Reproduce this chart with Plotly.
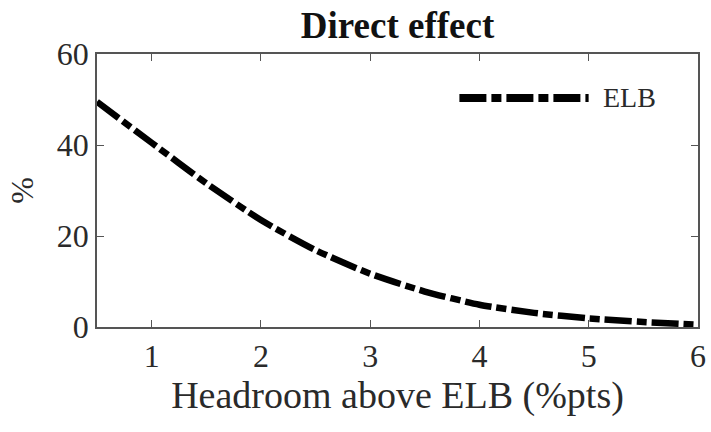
import plotly.graph_objects as go

# Headroom above the effective lower bound (percentage points)
headroom = [0.5, 1.0, 1.5, 2.0, 2.5, 3.0, 3.5, 4.0, 4.5, 5.0, 5.5, 6.0]
# Direct effect under the ELB scenario (%)
elb_effect = [49.5, 40.5, 31.6, 23.5, 16.9, 11.7, 7.8, 4.9, 3.1, 1.9, 1.1, 0.5]

x_ticks = [1, 2, 3, 4, 5, 6]
y_ticks = [0, 20, 40, 60]

SERIF = "Liberation Serif, Times New Roman, serif"
AXIS_COLOR = "#555555"
TEXT_COLOR = "#2a2a2a"
DASH = "27px,5px,10px,5px"

fig = go.Figure()
fig.add_trace(go.Scatter(
    x=headroom, y=elb_effect, mode="lines", name="ELB",
    line=dict(color="black", width=6.5, dash=DASH, shape="spline", smoothing=0.6),
    showlegend=False,
))

# Legend sample drawn as a long dash-dot segment with its label
fig.add_shape(type="line", xref="paper", yref="paper",
              x0=0.603, x1=0.818, y0=0.839, y1=0.839,
              line=dict(color="black", width=8, dash=DASH))
fig.add_annotation(text="ELB", xref="paper", yref="paper",
                   x=0.838, y=0.839, xanchor="left", yanchor="middle",
                   showarrow=False, font=dict(family=SERIF, size=28, color=TEXT_COLOR))

axis_common = dict(
    showline=True, linecolor=AXIS_COLOR, linewidth=1.5, mirror="ticks",
    ticks="inside", ticklen=7, tickwidth=1.2, tickcolor=AXIS_COLOR,
    showgrid=False, zeroline=False, automargin=False,
    tickfont=dict(family=SERIF, size=32, color=TEXT_COLOR),
)

fig.update_layout(
    width=711, height=432,
    margin=dict(l=97, r=13, t=54, b=105),
    paper_bgcolor="white", plot_bgcolor="white",
    title=dict(text="<b>Direct effect</b>", x=0.5, xref="paper",
               y=0.942, yref="container", xanchor="center", yanchor="middle",
               font=dict(family=SERIF, size=37, color="#111111")),
    xaxis=dict(range=[0.5, 6], tickvals=x_ticks,
               title=dict(text="Headroom above ELB (%pts)", standoff=8,
                          font=dict(family=SERIF, size=38, color=TEXT_COLOR)),
               **axis_common),
    yaxis=dict(range=[0, 60], tickvals=y_ticks,
               title=dict(text="%", standoff=14,
                          font=dict(family=SERIF, size=32, color=TEXT_COLOR)),
               **axis_common),
)

fig.write_html("out.html")
